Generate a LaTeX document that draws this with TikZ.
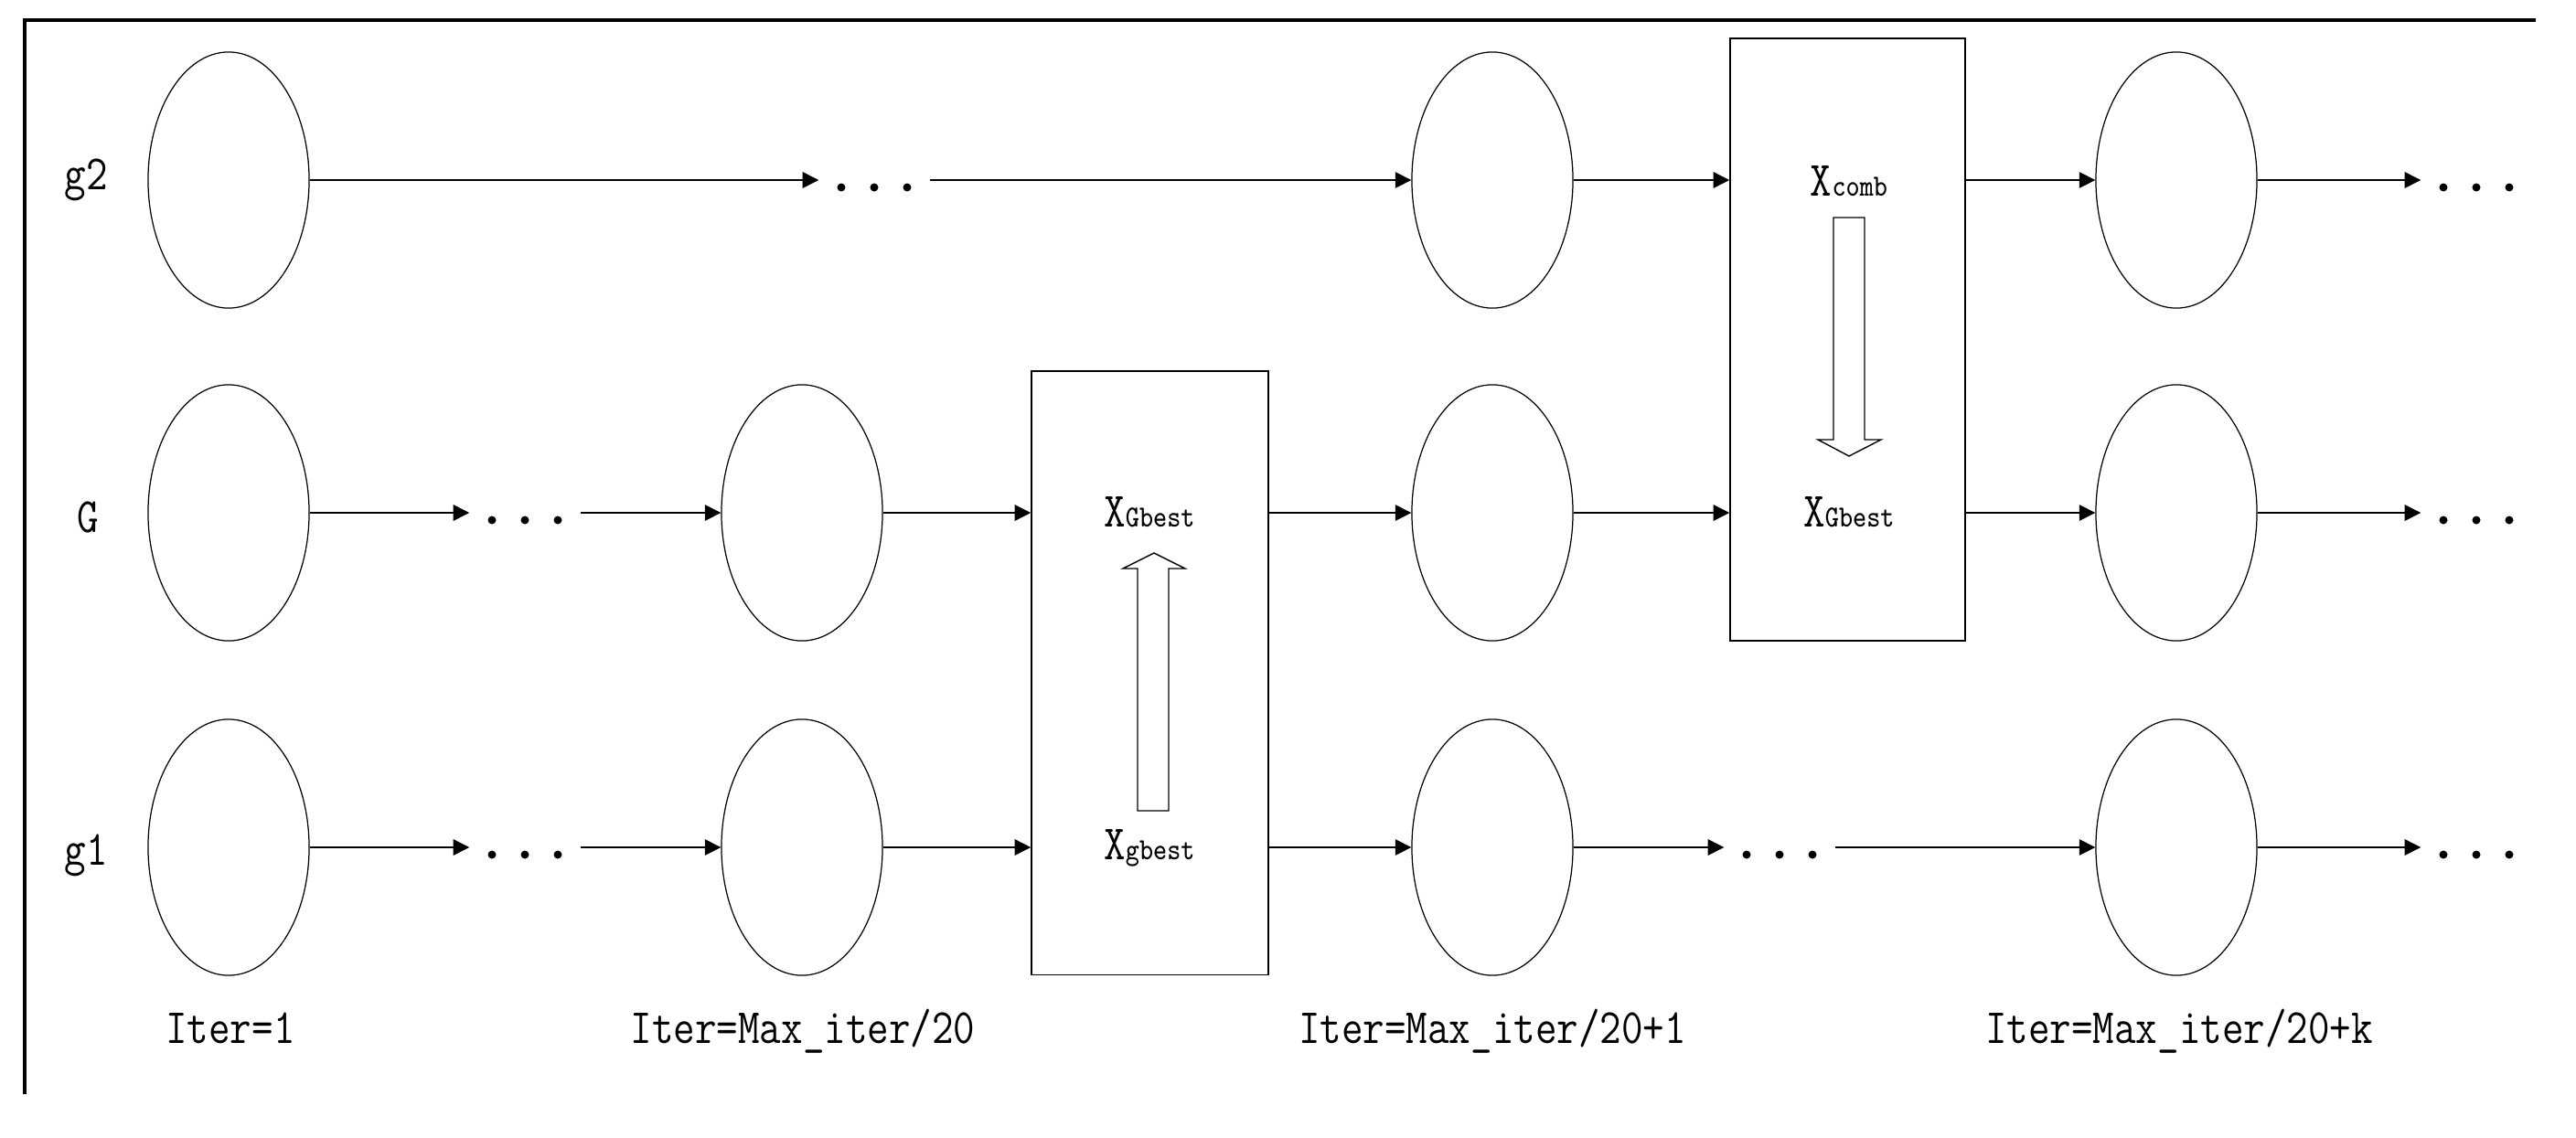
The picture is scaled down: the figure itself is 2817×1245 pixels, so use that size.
\documentclass[tikz,border=0pt]{standalone}
\usepackage{fontspec}
\usepackage{graphicx}
\usetikzlibrary{arrows.meta,shapes.geometric}
\newcommand{\mytxt}[1]{\scalebox{1}[1.18]{\ttfamily\fontsize{13pt}{14pt}\selectfont #1}}
\newcommand{\xlbl}[1]{\scalebox{1}[1.18]{\ttfamily\fontsize{13pt}{14pt}\selectfont X\fontsize{8.1pt}{9pt}\selectfont #1}}
\begin{document}
\begin{tikzpicture}[x=0.01cm, y=-0.01cm,
  ell/.style={draw, ellipse, line width=0.35pt, minimum width=1.76cm, minimum height=2.8cm, inner sep=0pt},
  blk/.style={draw, rectangle, line width=0.4pt, inner sep=0pt},
  conn/.style={line width=0.4pt, -{Triangle[length=5pt,width=5pt]}},
  dotsnode/.style={minimum width=1.2cm, minimum height=0.1cm, inner sep=0pt},
  lbl/.style={inner sep=0pt, anchor=base},
  hollow/.style={draw, line width=0.4pt, line join=miter}]
\useasboundingbox (0,0) rectangle (2817,1245);
% frame (top and left)
\draw[line width=1pt] (27,1197) -- (27,22) -- (2773,22);

% ellipses
\node[ell] (e12) at (250,197) {};
\node[ell] (e32) at (1632,197) {};
\node[ell] (e42) at (2380,197) {};
\node[ell] (e1G) at (250,561) {};
\node[ell] (e2G) at (877,561) {};
\node[ell] (e3G) at (1632,561) {};
\node[ell] (e4G) at (2380,561) {};
\node[ell] (e11) at (250,927) {};
\node[ell] (e21) at (877,927) {};
\node[ell] (e31) at (1632,927) {};
\node[ell] (e41) at (2380,927) {};

% boxes
\node[blk, minimum width=2.59cm, minimum height=6.6cm] (b1) at (1257.5,736) {};
\node[blk, minimum width=2.57cm, minimum height=6.59cm] (b2) at (2020.5,371.5) {};

% dots nodes
\node[dotsnode] (dA) at (956,197) {};
\node[dotsnode] (dB) at (2708,197) {};
\node[dotsnode] (dC) at (574,561) {};
\node[dotsnode] (dD) at (2708,561) {};
\node[dotsnode] (dE) at (574,927) {};
\node[dotsnode] (dF) at (1946,927) {};
\node[dotsnode] (dG) at (2708,927) {};
\foreach \d in {dA,dB,dC,dD,dE,dF,dG}{
  \foreach \dx in {-36,0,36}{
    \fill ([shift={(\dx,8)}]\d.center) circle (0.045cm);
  }
}

% row g2
\draw[conn] (e12.east) -- (dA.west);
\draw[conn] (dA.east) -- (e32.west);
\draw[conn] (e32.east) -- (e32.east -| b2.west);
\draw[conn] (e42.west -| b2.east) -- (e42.west);
\draw[conn] (e42.east) -- (dB.west);
% row G
\draw[conn] (e1G.east) -- (dC.west);
\draw[conn] (dC.east) -- (e2G.west);
\draw[conn] (e2G.east) -- (e2G.east -| b1.west);
\draw[conn] (e3G.west -| b1.east) -- (e3G.west);
\draw[conn] (e3G.east) -- (e3G.east -| b2.west);
\draw[conn] (e4G.west -| b2.east) -- (e4G.west);
\draw[conn] (e4G.east) -- (dD.west);
% row g1
\draw[conn] (e11.east) -- (dE.west);
\draw[conn] (dE.east) -- (e21.west);
\draw[conn] (e21.east) -- (e21.east -| b1.west);
\draw[conn] (e31.west -| b1.east) -- (e31.west);
\draw[conn] (e31.east) -- (dF.west);
\draw[conn] (dF.east) -- (e41.west);
\draw[conn] (e41.east) -- (dG.west);

% box texts
\node[lbl] (t1) at (1257,576) {\xlbl{Gbest}};
\node[lbl] (t2) at (1257,940) {\xlbl{gbest}};
\node[lbl] (t3) at (2022,214) {\xlbl{comb}};
\node[lbl] (t4) at (2022,576) {\xlbl{Gbest}};

% hollow arrows
\draw[hollow] (1244,887) -- (1244,622) -- (1228,622) -- (1262,605) -- (1296,622) -- (1278,622) -- (1278,887) -- cycle;
\draw[hollow] (2005,238) -- (2005,481) -- (1988,481) -- (2022,499) -- (2057,481) -- (2039,481) -- (2039,238) -- cycle;

% row labels
\node[lbl] (lg2) at (94,207) {\mytxt{g2}};
\node[lbl] (lG) at (96,582) {\mytxt{G}};
\node[lbl] (lg1) at (94,946) {\mytxt{g1}};

% iteration labels
\node[lbl] (i1) at (252,1141) {\mytxt{Iter=1}};
\node[lbl] (i2) at (878,1141) {\mytxt{Iter=Max\_iter/20}};
\node[lbl] (i3) at (1632,1141) {\mytxt{Iter=Max\_iter/20+1}};
\node[lbl] (i4) at (2383,1141) {\mytxt{Iter=Max\_iter/20+k}};
\end{tikzpicture}
\end{document}
